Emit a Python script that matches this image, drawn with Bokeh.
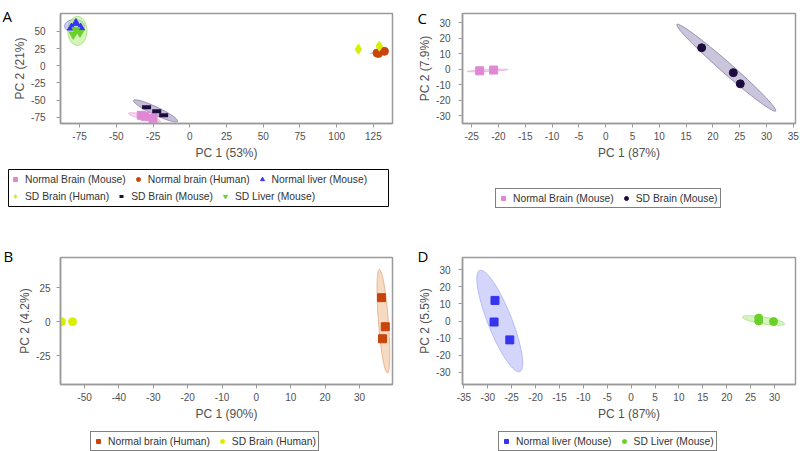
import numpy as np
from bokeh.plotting import figure
from bokeh.models import Legend, LegendItem, Label, FixedTicker, Range1d, GridBox, Column
from bokeh.embed import file_html
from bokeh.resources import INLINE

# ---------------- data ----------------
# Panel A (all samples)
A_xlabel = "PC 1 (53%)"
A_ylabel = "PC 2 (21%)"
A_xticks = [-75, -50, -25, 0, 25, 50, 75, 100, 125]
A_yticks = [-75, -50, -25, 0, 25, 50]
A_xrange = [-88, 138]
A_yrange = [-84, 76]
A_nbm_x = [-33.0, -30.5, -25.0]        # Normal Brain (Mouse)
A_nbm_y = [-72.0, -73.5, -76.5]
A_nbh_x = [127.5, 128.5, 132.5]        # Normal brain (Human)
A_nbh_y = [18.5, 18.0, 21.0]
A_nlm_x = [-80.6, -77.5, -74.3]        # Normal liver (Mouse)
A_nlm_y = [55.3, 62.0, 55.3]
A_sbh_x = [114.8, 129.0]               # SD Brain (Human)
A_sbh_y = [24.0, 28.5]
A_sbm_x = [-29.4, -22.5, -17.8]        # SD Brain (Mouse)
A_sbm_y = [-60.5, -66.0, -72.0]
A_slm_x = [-79.3, -77.5, -74.8]        # SD Liver (Mouse)
A_slm_y = [45.2, 52.0, 48.0]
# ellipses: centre x, centre y, axis-1 vector (x, y), axis-2 vector (x, y)
A_ell_nbm = [-30.8, -75.0, 10.9, -5.8, 0.4, 3.5]
A_ell_sbm = [-23.3, -65.6, 15.0, -15.2, 1.17, 5.2]
A_ell_nlm = [-78.4, 57.7, 6.8, 0.0, 0.0, 9.5]
A_ell_slm = [-76.5, 50.7, 6.5, 0.0, 0.0, 21.0]
A_ell_nbh = [129.0, 19.0, 6.0, 1.0, 0.0, 1.0]

# Panel B (human brain)
B_xlabel = "PC 1 (90%)"
B_ylabel = "PC 2 (4.2%)"
B_xticks = [-50, -40, -30, -20, -10, 0, 10, 20, 30]
B_yticks = [-25, 0, 25]
B_xrange = [-57, 39.6]
B_yrange = [-46, 47]
B_nbh_x = [36.4, 37.5, 36.7]
B_nbh_y = [17.6, -3.7, -12.5]
B_sbh_x = [-56.7, -53.5]
B_sbh_y = [0.0, 0.0]
B_ell_nbh = [36.95, 0.35, -1.15, 37.85, 1.45, 0.0]

# Panel C (mouse brain)
C_xlabel = "PC 1 (87%)"
C_ylabel = "PC 2 (7.9%)"
C_xticks = [-25, -20, -15, -10, -5, 0, 5, 10, 15, 20, 25, 30, 35]
C_yticks = [-30, -20, -10, 0, 10, 20, 30]
C_xrange = [-26.7, 35.4]
C_yrange = [-35, 36]
C_nbm_x = [-23.5, -20.9]
C_nbm_y = [-1.0, -0.5]
C_sbm_x = [17.9, 23.8, 25.1]
C_sbm_y = [13.9, -2.2, -9.4]
C_ell_nbm = [-22.0, -0.8, 3.8, 0.6, 0.05, 0.6]
C_ell_sbm = [22.5, 1.0, 9.2, -28.0, 0.8, 2.3]

# Panel D (mouse liver)
D_xlabel = "PC 1 (87%)"
D_ylabel = "PC 2 (5.5%)"
D_xticks = [-35, -30, -25, -20, -15, -10, -5, 0, 5, 10, 15, 20, 25, 30]
D_yticks = [-30, -20, -10, 0, 10, 20, 30]
D_xrange = [-35.3, 34.4]
D_yrange = [-37, 37]
D_nlm_x = [-28.5, -28.7, -25.4]
D_nlm_y = [12.0, -0.6, -11.0]
D_slm_x = [26.7, 26.7, 29.8]
D_slm_y = [1.7, 0.0, -0.3]
D_ell_nlm = [-27.5, 0.0, 4.2, -29.5, 2.33, 2.54]
D_ell_slm = [27.7, 0.3, 4.4, -2.0, 0.12, 2.0]

# ---------------- styling ----------------
FONT = "Liberation Sans"
C_PINK = "#e088d4"
C_ORANGE = "#c9450d"
C_BLUE = "#3535f0"
C_YELLOW = "#d8f000"
C_NAVY = "#1c0b3d"
C_GREEN = "#6ccf2a"

MK = {
    "nbm": dict(marker="square", size=8, color=C_PINK),
    "nbh": dict(marker="circle", size=8, color=C_ORANGE),
    "nlm": dict(marker="triangle", size=8, color=C_BLUE),
    "sbh": dict(marker="diamond", size=10, color=C_YELLOW),
    "sbm": dict(marker="dash", size=9, line_width=4, color=C_NAVY),
    "slm": dict(marker="inverted_triangle", size=8, color=C_GREEN),
}
# versions used for the legend keys
LK = {
    "nbm": dict(marker="square", size=6, color=C_PINK),
    "nbh": dict(marker="circle", size=6, color=C_ORANGE),
    "nlm": dict(marker="triangle", size=7, color=C_BLUE),
    "sbh": dict(marker="diamond", size=7, color=C_YELLOW),
    "sbm": dict(marker="dash", size=7, line_width=3, color=C_NAVY),
    "slm": dict(marker="inverted_triangle", size=7, color=C_GREEN),
}


def ellipse(p, e, fill, line, alpha=0.6):
    cx, cy, ux, uy, vx, vy = e
    t = np.linspace(0, 2 * np.pi, 120)
    xs = cx + ux * np.cos(t) + vx * np.sin(t)
    ys = cy + uy * np.cos(t) + vy * np.sin(t)
    p.patch(xs, ys, fill_color=fill, fill_alpha=alpha, line_color=line, line_alpha=0.7, line_width=1)


def make_fig(w, h, xr, yr, bl, br, bt, bb, xt, yt, xlab, ylab, ystand):
    p = figure(width=w, height=h, x_range=Range1d(*xr), y_range=Range1d(*yr),
               output_backend="svg", toolbar_location=None,
               min_border_left=bl, min_border_right=br, min_border_top=bt, min_border_bottom=bb)
    p.xgrid.visible = False
    p.ygrid.visible = False
    p.outline_line_color = "#9a9a9a"
    p.outline_line_width = 1.5
    p.xaxis.ticker = FixedTicker(ticks=xt, minor_ticks=[])
    p.yaxis.ticker = FixedTicker(ticks=yt, minor_ticks=[])
    p.xaxis.major_label_overrides = {t: str(t) for t in xt}
    p.yaxis.major_label_overrides = {t: str(t) for t in yt}
    p.xaxis.axis_label = xlab
    p.yaxis.axis_label = ylab
    for ax in (p.xaxis[0], p.yaxis[0]):
        ax.axis_line_color = "#9a9a9a"
        ax.axis_line_width = 1.5
        ax.major_tick_line_color = "#9a9a9a"
        ax.major_tick_out = 4
        ax.major_tick_in = 0
        ax.minor_tick_line_color = None
        ax.major_label_text_font = FONT
        ax.major_label_text_font_size = "10px"
        ax.major_label_text_color = "#505050"
        ax.axis_label_text_font = FONT
        ax.axis_label_text_font_size = "12px"
        ax.axis_label_text_font_style = "normal"
        ax.axis_label_text_color = "#505050"
    p.xaxis.major_label_standoff = 4
    p.xaxis.axis_label_standoff = 3
    p.yaxis.major_label_standoff = ystand
    p.yaxis.axis_label_standoff = 1
    return p


# ---------------- panel A ----------------
pA = make_fig(400, 225, A_xrange, A_yrange, 60, 8, 13, 102, A_xticks, A_yticks, A_xlabel, A_ylabel, 11)
ellipse(pA, A_ell_nlm, "#9c9cf2", "#7070e0", 0.5)
ellipse(pA, A_ell_slm, "#b8ec90", "#90d860", 0.6)
ellipse(pA, A_ell_sbm, "#9e93bd", "#7a6fa0", 0.6)
ellipse(pA, A_ell_nbm, "#f2bce8", "#e8a0dc", 0.6)
ellipse(pA, A_ell_nbh, "#f2cba8", "#e0a070", 0.6)
pA.scatter(A_nbm_x, A_nbm_y, **MK["nbm"])
pA.scatter(A_nbh_x, A_nbh_y, **MK["nbh"])
pA.scatter(A_nlm_x, A_nlm_y, **MK["nlm"])
pA.scatter(A_sbh_x, A_sbh_y, **MK["sbh"])
pA.scatter(A_sbm_x, A_sbm_y, **MK["sbm"])
pA.scatter(A_slm_x, A_slm_y, **MK["slm"])

# ---------------- panel C ----------------
pC = make_fig(400, 225, C_xrange, C_yrange, 62, 5, 13, 84, C_xticks, C_yticks, C_xlabel, C_ylabel, 8)
ellipse(pC, C_ell_sbm, "#a89ec4", "#7a6fa0", 0.6)
ellipse(pC, C_ell_nbm, "#f2bce8", "#e8a0dc", 0.6)
pC.scatter(C_nbm_x, C_nbm_y, **MK["nbm"])
pC.scatter(C_sbm_x, C_sbm_y, marker="circle", size=8, color=C_NAVY)

# ---------------- panel B ----------------
pB = make_fig(400, 226, B_xrange, B_yrange, 59, 7, 32, 67, B_xticks, B_yticks, B_xlabel, B_ylabel, 6)
ellipse(pB, B_ell_nbh, "#f2cba8", "#e0a070", 0.7)
pB.scatter(B_nbh_x, B_nbh_y, marker="square", size=8, color=C_ORANGE)
pB.scatter(B_sbh_x, B_sbh_y, marker="circle", size=8, color=C_YELLOW)

# ---------------- panel D ----------------
pD = make_fig(400, 226, D_xrange, D_yrange, 62, 5, 32, 66, D_xticks, D_yticks, D_xlabel, D_ylabel, 8)
ellipse(pD, D_ell_nlm, "#c0c4f8", "#a0a8f0", 0.7)
ellipse(pD, D_ell_slm, "#c6f0a8", "#a0e070", 0.7)
pD.scatter(D_nlm_x, D_nlm_y, marker="square", size=8, color=C_BLUE)
pD.scatter(D_slm_x, D_slm_y, marker="circle", size=8, color=C_GREEN)

# ---------------- overlay: panel letters and legends ----------------
ov = figure(width=800, height=451, x_range=Range1d(0, 800), y_range=Range1d(451, 0),
            output_backend="svg", toolbar_location=None,
            x_axis_location=None, y_axis_location=None,
            min_border_left=0, min_border_right=0, min_border_top=0, min_border_bottom=0)
ov.xgrid.visible = False
ov.ygrid.visible = False
ov.outline_line_color = None
ov.background_fill_alpha = 0
ov.border_fill_alpha = 0


def lr(xs, ys, **kw):
    r = ov.scatter(xs, ys, **kw)
    r.visible = False
    return r


def legend(items, loc, border=True):
    lg = Legend(items=items, location=loc, orientation="horizontal",
                border_line_color="black" if border else None, border_line_width=1,
                background_fill_alpha=1 if border else 0,
                padding=2, spacing=7, margin=0,
                glyph_width=10, glyph_height=10, label_height=14, label_standoff=5,
                label_text_font=FONT, label_text_font_size="10.3px", label_text_color="#333333")
    ov.add_layout(lg)


# A legend: box + two rows
ov.quad(left=[8], right=[388], top=[169], bottom=[206], fill_color="white", line_color="black", line_width=1)
legend([LegendItem(label="Normal Brain (Mouse)", renderers=[lr(A_nbm_x, A_nbm_y, **LK["nbm"])]),
        LegendItem(label="Normal brain (Human)", renderers=[lr(A_nbh_x, A_nbh_y, **LK["nbh"])]),
        LegendItem(label="Normal liver (Mouse)", renderers=[lr(A_nlm_x, A_nlm_y, **LK["nlm"])])],
       (10, 451 - 186), border=False)
legend([LegendItem(label="SD Brain (Human)", renderers=[lr(A_sbh_x, A_sbh_y, **LK["sbh"])]),
        LegendItem(label="SD Brain (Mouse)", renderers=[lr(A_sbm_x, A_sbm_y, **LK["sbm"])]),
        LegendItem(label="SD Liver (Mouse)", renderers=[lr(A_slm_x, A_slm_y, **LK["slm"])])],
       (10, 451 - 203), border=False)
# B legend
legend([LegendItem(label="Normal brain (Human)", renderers=[lr(B_nbh_x, B_nbh_y, marker="square", size=6, color=C_ORANGE)]),
        LegendItem(label="SD Brain (Human)", renderers=[lr(B_sbh_x, B_sbh_y, marker="circle", size=6, color=C_YELLOW)])],
       (90, 0))
# C legend
legend([LegendItem(label="Normal Brain (Mouse)", renderers=[lr(C_nbm_x, C_nbm_y, **LK["nbm"])]),
        LegendItem(label="SD Brain (Mouse)", renderers=[lr(C_sbm_x, C_sbm_y, marker="circle", size=6, color=C_NAVY)])],
       (495, 451 - 208))
# D legend
legend([LegendItem(label="Normal liver (Mouse)", renderers=[lr(D_nlm_x, D_nlm_y, marker="square", size=6, color=C_BLUE)]),
        LegendItem(label="SD Liver (Mouse)", renderers=[lr(D_slm_x, D_slm_y, marker="circle", size=6, color=C_GREEN)])],
       (498, 0))

for txt, x, y in [("A", 2, 15), ("C", 417, 17), ("B", 3, 255), ("D", 417, 255)]:
    ov.add_layout(Label(x=x, y=y, text=txt, text_font="Open Sans", text_font_size="15px",
                        text_baseline="alphabetic", text_color="black"))

ov_box = Column(children=[ov], width=800, height=451)
grid = GridBox(children=[(pA, 0, 0), (pC, 0, 1), (pB, 1, 0), (pD, 1, 1), (ov_box, 0, 0, 2, 2)])
open("out.html", "w").write(file_html(grid, INLINE))
